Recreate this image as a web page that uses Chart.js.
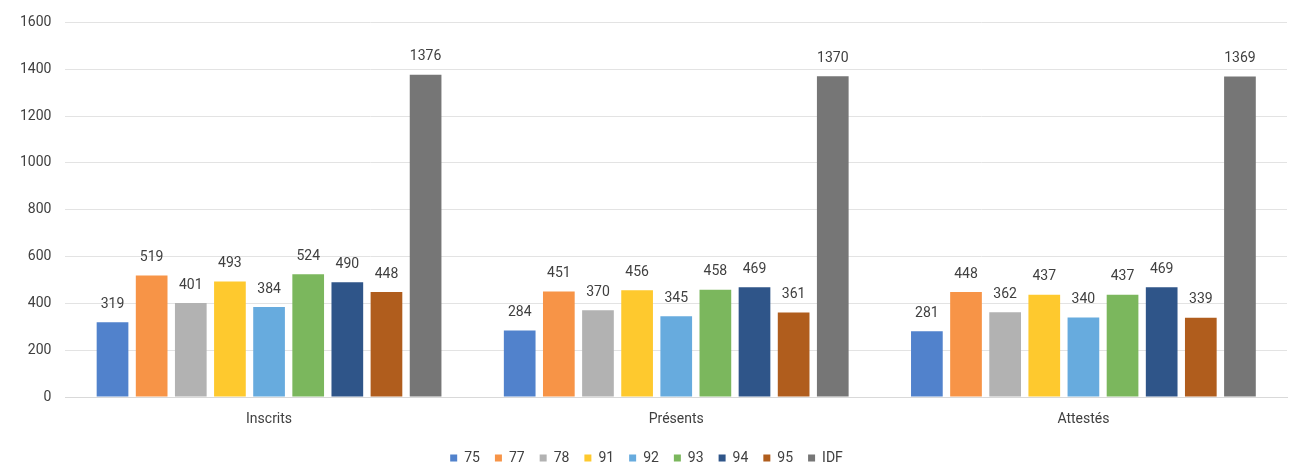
<!DOCTYPE html>
<html>
<head>
<meta charset="utf-8">
<script src="https://cdn.jsdelivr.net/npm/chart.js@4"></script>
<style>
  html, body { margin: 0; padding: 0; background: #fff; overflow: hidden; }
  canvas { display: block; }
</style>
</head>
<body>
<canvas id="chart" width="1289" height="466"></canvas>
<script>
var categories = ['Inscrits', 'Présents', 'Attestés'];
var seriesNames = ['75', '77', '78', '91', '92', '93', '94', '95', 'IDF'];
var s75 = [319, 284, 281];
var s77 = [519, 451, 448];
var s78 = [401, 370, 362];
var s91 = [493, 456, 437];
var s92 = [384, 345, 340];
var s93 = [524, 458, 437];
var s94 = [490, 469, 469];
var s95 = [448, 361, 339];
var sIDF = [1376, 1370, 1369];
var yTicks = [0, 200, 400, 600, 800, 1000, 1200, 1400, 1600];

var colors = ['#5182cc', '#f79447', '#b2b2b2', '#fec92e', '#67abde', '#7bb75d', '#2f5589', '#b05d1d', '#767676'];
var allSeries = [s75, s77, s78, s91, s92, s93, s94, s95, sIDF];

var font = "Roboto, 'DejaVu Sans', sans-serif";
var textColor = '#404040';

// draws the value above each bar
var valueLabels = {
    id: 'valueLabels',
    afterDatasetsDraw: function(chart) {
        var ctx = chart.ctx;
        ctx.save();
        ctx.font = '14px ' + font;
        ctx.fillStyle = textColor;
        ctx.textAlign = 'center';
        ctx.textBaseline = 'bottom';
        chart.data.datasets.forEach(function(ds, i) {
            var meta = chart.getDatasetMeta(i);
            meta.data.forEach(function(bar, j) {
                ctx.fillText(ds.data[j], bar.x, bar.y - 11);
            });
        });
        ctx.restore();
    }
};

var datasets = seriesNames.map(function(name, i) {
    return {
        label: name,
        data: allSeries[i],
        backgroundColor: colors[i],
        borderWidth: 0,
        barPercentage: 0.81,
        categoryPercentage: 0.865
    };
});

var ctx = document.getElementById('chart').getContext('2d');
new Chart(ctx, {
    type: 'bar',
    data: { labels: categories, datasets: datasets },
    plugins: [valueLabels],
    options: {
        responsive: false,
        animation: false,
        devicePixelRatio: 1,
        layout: { padding: { top: 9, right: 2, left: 6, bottom: -9 } },
        plugins: {
            legend: {
                position: 'bottom',
                // empty title only used as a spacer above the legend row
                title: { display: true, text: '', font: { size: 1 }, padding: { top: 1, bottom: 0 } },
                labels: {
                    boxWidth: 7,
                    boxHeight: 7,
                    padding: 15,
                    color: textColor,
                    font: { family: font, size: 14 }
                }
            },
            tooltip: { enabled: false }
        },
        scales: {
            x: {
                grid: { display: false },
                border: { color: '#d9d9d9', width: 1 },
                ticks: { color: textColor, font: { family: font, size: 14 }, padding: 6 }
            },
            y: {
                min: 0,
                max: 1600,
                afterBuildTicks: function(axis) {
                    axis.ticks = yTicks.map(function(v) { return { value: v }; });
                },
                grid: { color: '#e3e3e3', drawTicks: false },
                border: { display: false },
                ticks: {
                    color: textColor,
                    font: { family: font, size: 14 },
                    padding: 14,
                    callback: function(v) { return String(v); }
                }
            }
        }
    }
});
</script>
</body>
</html>
